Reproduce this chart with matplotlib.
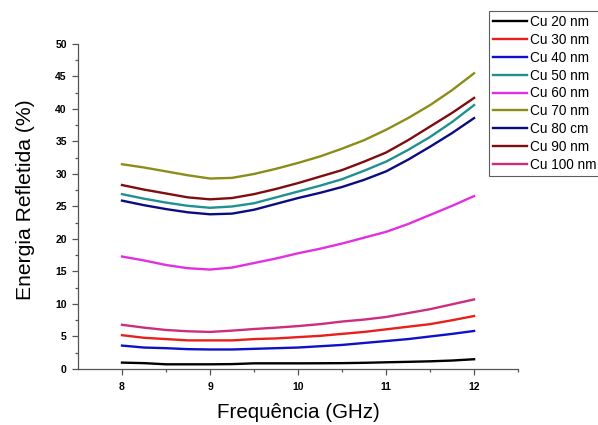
import matplotlib
matplotlib.use("Agg")
import matplotlib.pyplot as plt
from matplotlib.ticker import MultipleLocator, FixedLocator

plt.rcParams['font.family'] = ['Liberation Sans', 'DejaVu Sans']

freq = [8.0, 8.25, 8.5, 8.75, 9.0, 9.25, 9.5, 9.75, 10.0,
        10.25, 10.5, 10.75, 11.0, 11.25, 11.5, 11.75, 12.0]

cu20 = [0.98, 0.90, 0.72, 0.72, 0.72, 0.75, 0.87, 0.87, 0.87,
        0.88, 0.90, 0.95, 1.03, 1.10, 1.18, 1.30, 1.50]
cu30 = [5.2, 4.8, 4.6, 4.4, 4.4, 4.4, 4.6, 4.7, 4.9,
        5.1, 5.4, 5.7, 6.1, 6.5, 6.9, 7.5, 8.15]
cu40 = [3.6, 3.3, 3.2, 3.05, 3.0, 3.0, 3.1, 3.2, 3.3,
        3.5, 3.7, 4.0, 4.3, 4.6, 5.0, 5.4, 5.85]
cu50 = [26.9, 26.2, 25.6, 25.1, 24.8, 25.0, 25.5, 26.4, 27.3,
        28.2, 29.2, 30.5, 31.9, 33.7, 35.7, 38.0, 40.6]
cu60 = [17.3, 16.7, 16.0, 15.5, 15.3, 15.6, 16.3, 17.0, 17.8,
        18.5, 19.3, 20.2, 21.1, 22.3, 23.7, 25.1, 26.6]
cu70 = [31.5, 31.0, 30.4, 29.8, 29.3, 29.4, 30.0, 30.8, 31.7,
        32.7, 33.9, 35.2, 36.8, 38.6, 40.6, 42.9, 45.5]
cu80 = [25.9, 25.2, 24.6, 24.1, 23.8, 23.9, 24.5, 25.4, 26.3,
        27.1, 28.0, 29.1, 30.4, 32.2, 34.2, 36.3, 38.6]
cu90 = [28.3, 27.6, 27.0, 26.4, 26.1, 26.3, 26.9, 27.7, 28.6,
        29.6, 30.6, 31.9, 33.3, 35.2, 37.3, 39.4, 41.7]
cu100 = [6.8, 6.36, 6.0, 5.8, 5.7, 5.9, 6.15, 6.36, 6.6,
         6.9, 7.3, 7.6, 8.0, 8.6, 9.2, 9.95, 10.7]

labels = ["Cu 20 nm", "Cu 30 nm", "Cu 40 nm", "Cu 50 nm", "Cu 60 nm",
          "Cu 70 nm", "Cu 80 cm", "Cu 90 nm", "Cu 100 nm"]
series = [cu20, cu30, cu40, cu50, cu60, cu70, cu80, cu90, cu100]
colors = ["#000000", "#e8201c", "#1010c8", "#209090", "#e030e0",
          "#8c8c18", "#0c0c80", "#800c10", "#cc2e7f"]

fig = plt.figure(figsize=(5.98, 4.25), dpi=100)
ax = fig.add_axes([0.1304, 0.1318, 0.736, 0.7647])

handles = []
for ys, c, lab in zip(series, colors, labels):
    h, = ax.plot(freq, ys, color=c, lw=1.7, label=lab)
    handles.append(h)

ax.set_xlim(7.5, 12.5)
ax.set_ylim(0, 50)
ax.xaxis.set_major_locator(FixedLocator([8, 9, 10, 11, 12]))
ax.xaxis.set_minor_locator(FixedLocator([8.5, 9.5, 10.5, 11.5, 12.5]))
ax.yaxis.set_major_locator(MultipleLocator(5))
ax.yaxis.set_minor_locator(MultipleLocator(2.5))

for s in ['top', 'right']:
    ax.spines[s].set_visible(False)
for s in ['left', 'bottom']:
    ax.spines[s].set_color('#555555')
    ax.spines[s].set_linewidth(0.9)

ax.tick_params(which='major', direction='out', length=4.0, width=0.9,
               color='#555555', labelsize=7.5)
ax.tick_params(which='minor', direction='out', length=2.5, width=0.9,
               color='#555555')
ax.tick_params(axis='x', which='major', pad=5.5)
ax.tick_params(axis='y', which='major', pad=4)
for t in ax.get_xticklabels() + ax.get_yticklabels():
    t.set_fontweight('bold')

ax.set_xlabel("Frequência (GHz)", fontsize=14.8, labelpad=8)
ax.set_ylabel("Energia Refletida (%)", fontsize=15.2, labelpad=15, y=0.52)

leg = fig.legend(handles=handles, loc='upper left',
                 bbox_to_anchor=(489 / 598, 1 - 11 / 425),
                 frameon=True, fancybox=False, fontsize=9.8,
                 handlelength=2.5, handletextpad=0.2, labelspacing=0.28,
                 borderpad=0.3, borderaxespad=0)
leg.get_frame().set_edgecolor('#333333')
leg.get_frame().set_linewidth(0.8)

fig.savefig("out.png", dpi=100)
